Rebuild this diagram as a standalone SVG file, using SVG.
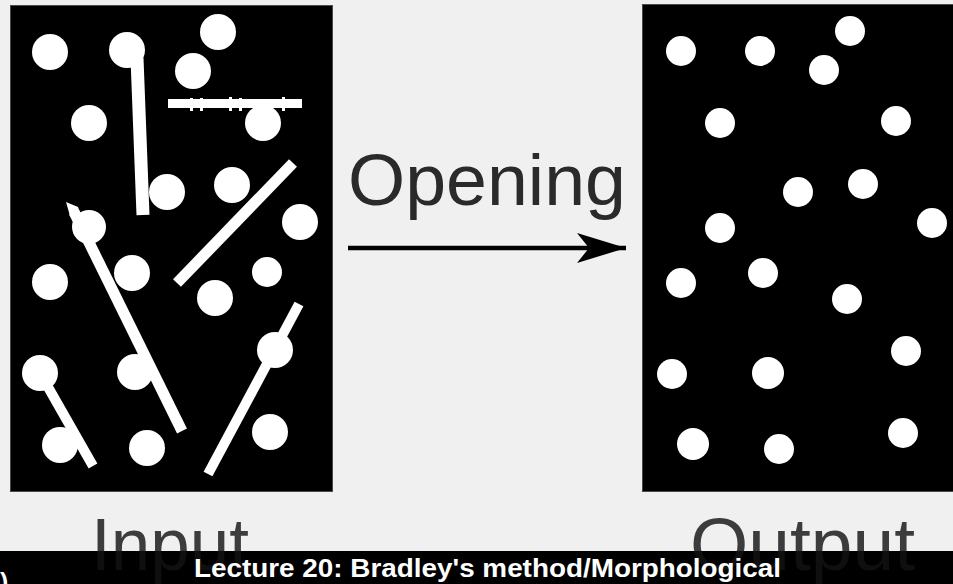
<svg xmlns="http://www.w3.org/2000/svg" width="953" height="584" viewBox="0 0 953 584">
  <defs>
    <style>
      .panel { fill: #000; stroke: #4a4a4a; stroke-width: 1; }
      .dot { fill: #fff; }
      .bar { stroke: #fff; fill: none; stroke-linecap: butt; }
      .big { font-family: "Liberation Sans", Arial, sans-serif; font-size: 74px; fill: #3c3c3c; }
      .cap { font-family: "Liberation Sans", Arial, sans-serif; font-weight: bold; font-size: 25px; fill: #fff; }
    </style>
    <marker id="arrowhead" markerUnits="userSpaceOnUse" markerWidth="52" markerHeight="32" refX="50" refY="16" orient="auto">
      <path d="M50,16 L1,1 L13,16 L1,31 Z" fill="#000"/>
    </marker>
  </defs>

  <rect x="0" y="0" width="953" height="551" fill="#f0f0f0"/>
  <rect x="0" y="551" width="953" height="33" fill="#000"/>

  <g id="input-image">
    <rect class="panel" x="10.5" y="5.5" width="322" height="486"/>
    <!-- lines -->
    <line class="bar" x1="137" y1="58" x2="143" y2="215" stroke-width="13"/>
    <line class="bar" x1="168" y1="103.5" x2="302" y2="103.5" stroke-width="9"/>
    <rect class="dot" x="190" y="98" width="3" height="13"/>
    <rect class="dot" x="200" y="98" width="3" height="13"/>
    <rect class="dot" x="229" y="97" width="3" height="14"/>
    <rect class="dot" x="239" y="98" width="3" height="13"/>
    <rect class="dot" x="282" y="97" width="3" height="14"/>
    <line class="bar" x1="293" y1="163" x2="177" y2="283" stroke-width="11" stroke-linecap="round"/>
    <line class="bar" x1="74" y1="212" x2="182" y2="431" stroke-width="11"/>
    <polygon class="dot" points="66,202 78,207 82,218 70,216"/>
    <line class="bar" x1="40" y1="373" x2="93" y2="466" stroke-width="10"/>
    <line class="bar" x1="299" y1="304" x2="208" y2="474" stroke-width="10" stroke-linecap="round"/>
    <!-- dots -->
    <circle class="dot" cx="50" cy="52" r="18"/>
    <circle class="dot" cx="127" cy="50" r="18"/>
    <circle class="dot" cx="218" cy="32" r="18"/>
    <circle class="dot" cx="193" cy="71" r="18"/>
    <circle class="dot" cx="89" cy="123" r="18"/>
    <circle class="dot" cx="263" cy="123" r="18"/>
    <circle class="dot" cx="167" cy="192" r="18"/>
    <circle class="dot" cx="232" cy="185" r="18"/>
    <circle class="dot" cx="300" cy="222" r="18"/>
    <circle class="dot" cx="89" cy="227" r="17"/>
    <circle class="dot" cx="50" cy="282" r="18"/>
    <circle class="dot" cx="132" cy="273" r="18"/>
    <circle class="dot" cx="267" cy="272" r="15"/>
    <circle class="dot" cx="215" cy="298" r="18"/>
    <circle class="dot" cx="135" cy="372" r="18"/>
    <circle class="dot" cx="40" cy="373" r="18"/>
    <circle class="dot" cx="60" cy="445" r="18"/>
    <circle class="dot" cx="147" cy="448" r="18"/>
    <circle class="dot" cx="275" cy="350" r="18"/>
    <circle class="dot" cx="270" cy="432" r="18"/>
  </g>

  <g id="output-image">
    <rect class="panel" x="642.5" y="4.5" width="320" height="487"/>
    <circle class="dot" cx="681" cy="51" r="15"/>
    <circle class="dot" cx="760" cy="51" r="15"/>
    <circle class="dot" cx="850" cy="31" r="15"/>
    <circle class="dot" cx="824" cy="70" r="15"/>
    <circle class="dot" cx="720" cy="123" r="15"/>
    <circle class="dot" cx="896" cy="121" r="15"/>
    <circle class="dot" cx="798" cy="192" r="15"/>
    <circle class="dot" cx="863" cy="184" r="15"/>
    <circle class="dot" cx="932" cy="223" r="15"/>
    <circle class="dot" cx="720" cy="228" r="15"/>
    <circle class="dot" cx="681" cy="283" r="15"/>
    <circle class="dot" cx="763" cy="273" r="15"/>
    <circle class="dot" cx="847" cy="299" r="15"/>
    <circle class="dot" cx="906" cy="351" r="15"/>
    <circle class="dot" cx="672" cy="374" r="15"/>
    <circle class="dot" cx="768" cy="373" r="16"/>
    <circle class="dot" cx="693" cy="444" r="16"/>
    <circle class="dot" cx="779" cy="449" r="15"/>
    <circle class="dot" cx="903" cy="433" r="15"/>
  </g>

  <g id="opening-label">
    <text x="348" y="205" font-family="'Liberation Sans', Arial, sans-serif" font-size="73" fill="#2a2a2a" textLength="278" lengthAdjust="spacingAndGlyphs">Opening</text>
  </g>

  <g id="connectors">
    <line x1="348" y1="248" x2="626" y2="248" stroke="#000" stroke-width="4.5" marker-end="url(#arrowhead)"/>
  </g>

  <g id="labels">
    <text class="big" x="91" y="570" textLength="158" lengthAdjust="spacingAndGlyphs">Input</text>
    <text class="big" x="690" y="570" textLength="225" lengthAdjust="spacingAndGlyphs">Output</text>
  </g>

  <g id="caption">
    <rect x="0" y="551" width="953" height="33" fill="#000" opacity="0.75"/>
    <text class="cap" x="0" y="591">)</text>
    <text class="cap" x="194" y="577" textLength="587" lengthAdjust="spacingAndGlyphs">Lecture 20: Bradley's method/Morphological</text>
  </g>
</svg>
